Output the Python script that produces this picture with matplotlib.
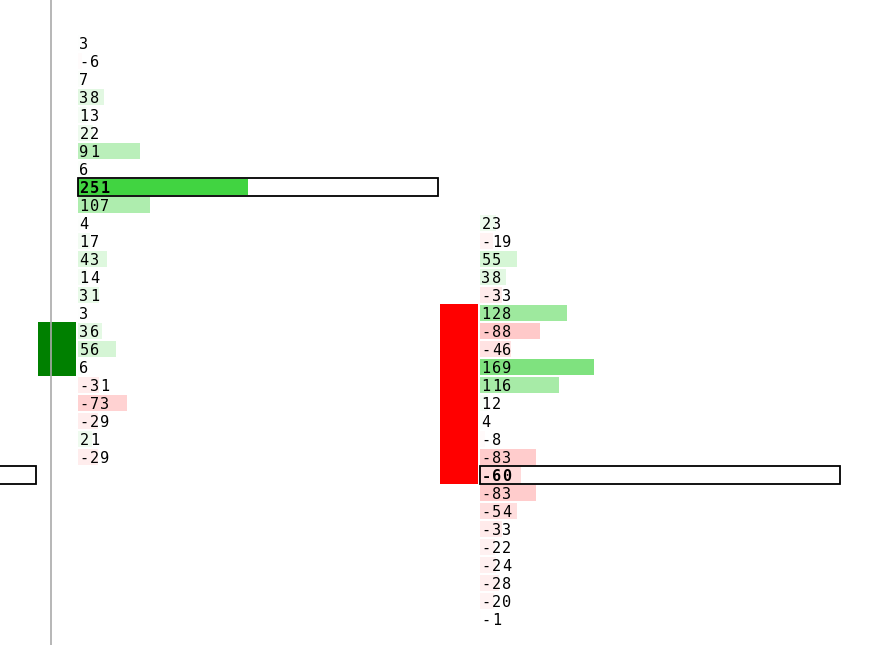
import numpy as np
import matplotlib.pyplot as plt

# footprint data: delta per price level, top to bottom
left_delta = [3, -6, 7, 38, 13, 22, 91, 6, 251, 107, 4, 17, 43, 14, 31, 3,
              36, 56, 6, -31, -73, -29, 21, -29]
right_delta = [23, -19, 55, 38, -33, 128, -88, -46, 169, 116, 12, 4, -8,
               -83, -60, -83, -54, -33, -22, -24, -28, -20, -1]
left_top = 0      # row index of first level
right_top = 10
# candle bodies (open row, close row)
left_body = (18, 16)
right_body = (15, 24)
# point of control rows
prev_poc = 24
left_poc = 8
right_poc = 24

max_abs = 251

## layout
W, H = 894, 645
row_px = 18
y0 = 43
col_w = 360
col_x = [-324, 78, 480]
px_per_unit = 170 / 251.0

fig = plt.figure(figsize=(W / 100, H / 100), dpi=100)
ax = fig.add_axes([0, 0, 1, 1])
ax.set_xlim(0, W)
ax.set_ylim((H - y0) / row_px, -y0 / row_px)
ax.axis('off')

green_base = np.array([65, 212, 65]) / 255.0
red_base = np.array([255, 100, 100]) / 255.0

def cell_color(v):
    a = min(abs(v) / max_abs, 1.0)
    base = green_base if v >= 0 else red_base
    return tuple(1 - a * (1 - base))

def put_text(x, y, s, bold=False):
    # monospace with wide pitch, one glyph at a time
    for i, ch in enumerate(s):
        ax.text(x + i * 10.4, y, ch, fontsize=11, family='DejaVu Sans Mono',
                fontweight='bold' if bold else 'normal',
                ha='left', va='center_baseline', color='black', zorder=5)

def draw_column(x, top, deltas, poc):
    rows = np.arange(top, top + len(deltas))
    widths = [abs(v) * px_per_unit for v in deltas]
    ax.barh(rows, widths, left=x, height=0.94,
            color=[cell_color(v) for v in deltas], zorder=2)
    for r, v in zip(rows, deltas):
        put_text(x + 1.5, r - 0.02, str(v), bold=(r == poc))
    ax.add_patch(plt.Rectangle((x, poc - 0.5), col_w, 1, fill=False,
                               edgecolor='black', lw=1.3, zorder=4))

def draw_body(x, body, color):
    o, c = body
    top, bot = min(o, c), max(o, c)
    ax.bar(x - 21, bot - top + 1, bottom=top - 0.5, width=38, color=color,
           zorder=3)

# previous column: only its POC box reaches into view
ax.add_patch(plt.Rectangle((col_x[0], prev_poc - 0.5), col_w, 1, fill=False,
                           edgecolor='black', lw=1.3, zorder=4))

draw_column(col_x[1], left_top, left_delta, left_poc)
draw_column(col_x[2], right_top, right_delta, right_poc)
draw_body(col_x[1], left_body, 'green')
draw_body(col_x[2], right_body, 'red')

ax.axvline(51, color='#aaaaaa', lw=1.2, zorder=6)

fig.savefig('out.png', dpi=100)
